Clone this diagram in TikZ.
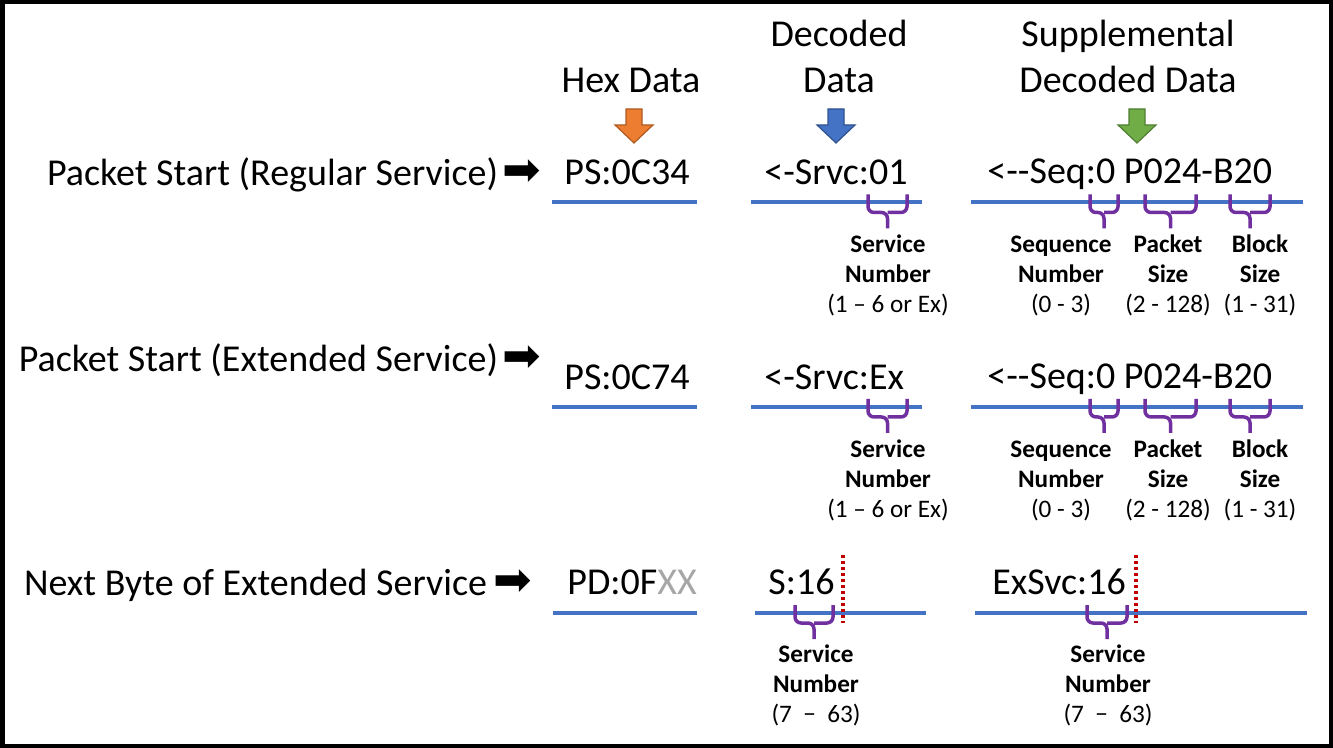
\documentclass[tikz,border=0pt]{standalone}
\usepackage{fontspec}
\setmainfont{Carlito}
\newfontfamily\symfont{DejaVu Sans}

\definecolor{hexorange}{HTML}{ED7D31}
\definecolor{hexorangedk}{HTML}{AE5A21}
\definecolor{decblue}{HTML}{4472C4}
\definecolor{decbluedk}{HTML}{2F528F}
\definecolor{supgreen}{HTML}{70AD47}
\definecolor{supgreendk}{HTML}{507E32}
\definecolor{brpurple}{HTML}{7030A0}
\definecolor{cutred}{HTML}{C00000}
\definecolor{xxgray}{HTML}{A6A6A6}

\newcommand{\rarr}{{\symfont\fontsize{23}{23}\selectfont ➡}}

\tikzset{
  big/.style={font=\fontsize{19}{23}\selectfont, inner sep=0pt},
  head/.style={big, align=center, anchor=base},
  data/.style={big, anchor=base west},
  rowlabel/.style={big, anchor=base east},
  uline/.style={decblue, line width=2pt},
  brace/.style={brpurple, line width=1.75pt, rounded corners=3pt},
  note/.style={font=\fontsize{12.6}{15}\selectfont, align=center, anchor=base, inner sep=0pt},
  cut/.style={cutred, line width=1.6pt, dash pattern=on 1.6pt off 1.4pt},
}

\begin{document}
\begin{tikzpicture}[x=0.5pt,y=-0.5pt]

\useasboundingbox (0,0) rectangle (1333,748);
\draw[line width=2.25pt] (2.25,2.25) rectangle (1330.75,745.75);

% column headings
\node[head] (hdrHex) at (631,93) {Hex Data};
\node[head] (hdrDec) at (839,93) {Decoded\\Data};
\node[head] (hdrSup) at (1128,93) {Supplemental\\Decoded Data};

\foreach \x/\c/\d in {634/hexorange/hexorangedk, 836/decblue/decbluedk, 1137/supgreen/supgreendk}
  \filldraw[fill=\c, draw=\d, line width=0.6pt] (\x-8,109) -- (\x+8,109) -- (\x+8,125) -- (\x+19,125)
    -- (\x,143) -- (\x-19,125) -- (\x-8,125) -- cycle;

% row labels
\node[rowlabel] (lblReg) at (541,186) {Packet Start (Regular Service)\hspace{2pt}\rarr};
\node[rowlabel] (lblExt) at (541,372) {Packet Start (Extended Service)\hspace{2pt}\rarr};
\node[rowlabel] (lblNext) at (532,595) {Next Byte of Extended Service\hspace{3pt}\rarr};

% packet start rows
\node[data] (hexReg) at (564,185) {PS:0C34};
\node[data] (decReg) at (764,185) {<-Srvc:01};
\node[data] (supReg) at (987,184) {<-{}-Seq:0 P024-B20};

\node[data] (hexExt) at (564,390) {PS:0C74};
\node[data] (decExt) at (764,390) {<-Srvc:Ex};
\node[data] (supExt) at (987,389) {<-{}-Seq:0 P024-B20};

\foreach \l in {202.5,407} {
  \draw[uline] (552,\l) -- (697,\l);
  \draw[uline] (751,\l) -- (922,\l);
  \draw[uline] (971,\l) -- (1303,\l);
  \foreach \a/\b in {868/907, 1090/1118, 1145/1196, 1230/1270} {
    \draw[brace] (\a,\l-8) |- ({(\a+\b)/2},\l+10) -- ++(0,16);
    \draw[brace] (\b,\l-8) |- ({(\a+\b)/2},\l+10);
  }
  \node[note] at (888,\l+110) {\textbf{Service}\\\textbf{Number}\\(1 -- 6 or Ex)};
  \node[note] at (1061,\l+110) {\textbf{Sequence}\\\textbf{Number}\\(0 - 3)};
  \node[note] at (1168,\l+110) {\textbf{Packet}\\\textbf{Size}\\(2 - 128)};
  \node[note] at (1260,\l+110) {\textbf{Block}\\\textbf{Size}\\(1 - 31)};
}

% next byte row
\node[data] (hexNext) at (567,594) {PD:0F\textcolor{xxgray}{XX}};
\node[data] (decNext) at (768,594) {S:16};
\node[data] (supNext) at (992,594) {ExSvc:16};

\draw[uline] (553,613) -- (697,613);
\draw[uline] (755,613) -- (926,613);
\draw[uline] (975,613) -- (1307,613);

\foreach \a/\b in {795/833, 1087/1127} {
  \draw[brace] (\a,605) |- ({(\a+\b)/2},623) -- ++(0,16);
  \draw[brace] (\b,605) |- ({(\a+\b)/2},623);
}
\node[note] (numS) at (816,722) {\textbf{Service}\\\textbf{Number}\\(7 \ − \ 63)};
\node[note] (numEx) at (1108,722) {\textbf{Service}\\\textbf{Number}\\(7 \ − \ 63)};

\draw[cut] (843,555) -- (843,623);
\draw[cut] (1136,555) -- (1136,623);

\end{tikzpicture}
\end{document}
